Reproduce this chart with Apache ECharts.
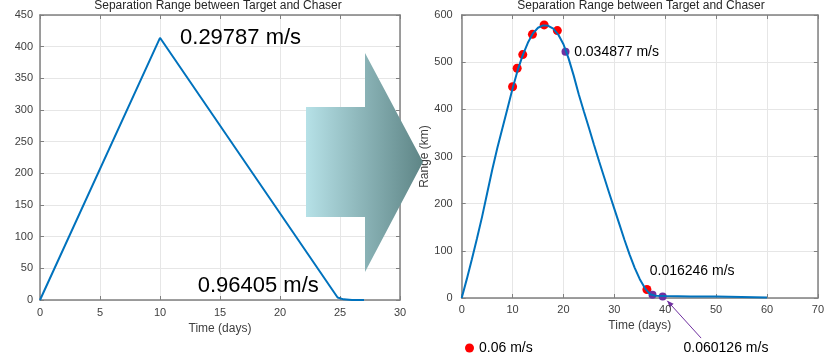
<!DOCTYPE html>
<html>
<head>
<meta charset="utf-8">
<script src="https://cdn.jsdelivr.net/npm/echarts@6/dist/echarts.min.js"></script>
<style>
html, body { margin: 0; padding: 0; background: #fff; }
#main { width: 827px; height: 354px; }
</style>
</head>
<body>
<div id="main"></div>
<script>
// 左图数据
var leftTime = [0, 10, 24.8, 25.3, 26, 27];
var leftRange = [0, 414, 4, 1, 0, 0];
var leftXTicks = [0, 5, 10, 15, 20, 25, 30];
var leftYTicks = [0, 50, 100, 150, 200, 250, 300, 350, 400, 450];

// 右图数据
var rightTime = [0, 1, 2, 3, 4, 5, 6, 7, 8, 9, 10, 11, 12, 13, 14, 15, 16, 17, 18, 19, 20, 21, 22, 23, 24, 25, 26, 27, 28, 29, 30, 31, 32, 33, 34, 35, 36, 37, 38, 40, 45, 50, 55, 60];
var rightRange = [0, 40, 82, 126, 172, 222, 272, 318, 360, 402, 444, 483, 515, 541, 561, 573, 578, 577, 571, 558, 538, 508, 472, 432, 396, 361, 325, 290, 256, 222, 189, 156, 123, 92, 64, 40, 21, 8, 5, 4, 3, 3, 2, 1];
var redTime = [10, 10.9, 12, 13.9, 16.2, 18.8, 36.4];
var redRange = [448, 487, 516, 559, 579, 567, 18];
var purpleTime = [20.4, 37.5, 39.5];
var purpleRange = [522, 7, 3];
var rightXTicks = [0, 10, 20, 30, 40, 50, 60, 70];
var rightYTicks = [0, 100, 200, 300, 400, 500, 600];

// 标注文字 [时间, 距离, 文本]
var leftNotes = [[11.67, 414, '0.29787 m/s'], [13.14, 22, '0.96405 m/s']];
var rightNotes = [[22.1, 522, '0.034877 m/s'], [36.96, 57, '0.016246 m/s'], [43.6, -107, '0.060126 m/s']];
var legendName = '0.06 m/s';

var line_color = '#0072BD';
var red_color = '#FF0000';
var purple_color = '#7030A0';

function zip(a, b) {
    var out = [];
    for (let i = 0; i < a.length; i++) out.push([a[i], b[i]]);
    return out;
}

var tickFont = { color: '#404040', fontSize: 11, fontFamily: 'Liberation Sans, Arial' };

// 生成一组坐标轴（主轴 + 对侧只画刻度的轴）
function makeAxes(grid, ticks, isX, name, nameGap, labelMargin) {
    var min = ticks[0], max = ticks[ticks.length - 1];
    var step = ticks[1] - ticks[0];
    var main = {
        type: 'value', gridIndex: grid, min: min, max: max, interval: step,
        position: isX ? 'bottom' : 'left',
        name: name, nameLocation: 'middle', nameGap: nameGap,
        nameTextStyle: { color: '#404040', fontSize: 12, fontFamily: 'Liberation Sans, Arial' },
        axisLine: { show: true, onZero: false, lineStyle: { color: '#808080', width: 1.5 } },
        axisTick: { show: true, inside: true, length: 4, lineStyle: { color: '#808080' } },
        axisLabel: Object.assign({ margin: labelMargin }, tickFont),
        splitLine: { show: true, lineStyle: { color: '#e6e6e6', width: 1 } }
    };
    var other = {
        type: 'value', gridIndex: grid, min: min, max: max, interval: step,
        position: isX ? 'top' : 'right',
        axisLine: { show: true, onZero: false, lineStyle: { color: '#808080', width: 1.5 } },
        axisTick: { show: true, inside: true, length: 4, lineStyle: { color: '#808080' } },
        axisLabel: { show: false },
        splitLine: { show: false }
    };
    return [main, other];
}

var myChart = echarts.init(document.getElementById('main'));

var xAxes = makeAxes(0, leftXTicks, true, 'Time (days)', 22, 7)
    .concat(makeAxes(1, rightXTicks, true, 'Time (days)', 20, 6));
var yAxes = makeAxes(0, leftYTicks, false, '', 20, 7)
    .concat(makeAxes(1, rightYTicks, false, 'Range (km)', 27, 9));

var option = {
    animation: false,
    backgroundColor: '#fff',
    title: [
        { text: 'Separation Range between Target and Chaser', left: 218, top: 0, padding: 0, textAlign: 'center',
          textStyle: { fontSize: 12, fontWeight: 'normal', color: '#262626', fontFamily: 'Liberation Sans, Arial' } },
        { text: 'Separation Range between Target and Chaser', left: 641, top: 0, padding: 0, textAlign: 'center',
          textStyle: { fontSize: 12, fontWeight: 'normal', color: '#262626', fontFamily: 'Liberation Sans, Arial' } }
    ],
    legend: {
        data: [legendName], left: 460, top: 336, itemWidth: 9, itemHeight: 9, itemGap: 6,
        icon: 'circle',
        textStyle: { fontSize: 14, color: '#000', fontFamily: 'Liberation Sans, Arial' }
    },
    grid: [
        { left: 40, top: 15, width: 360, height: 285 },
        { left: 461.7, top: 15, width: 360, height: 283 }
    ],
    xAxis: xAxes,
    yAxis: yAxes,
    series: [
        { type: 'line', xAxisIndex: 0, yAxisIndex: 0, data: zip(leftTime, leftRange), showSymbol: false,
          lineStyle: { color: line_color, width: 2 } },
        { type: 'line', xAxisIndex: 2, yAxisIndex: 2, data: zip(rightTime, rightRange), showSymbol: false,
          lineStyle: { color: line_color, width: 2 } },
        { name: legendName, type: 'scatter', xAxisIndex: 2, yAxisIndex: 2, data: zip(redTime, redRange), symbolSize: 9,
          itemStyle: { color: red_color, opacity: 1 } },
        { type: 'scatter', xAxisIndex: 2, yAxisIndex: 2, data: zip(purpleTime, purpleRange), symbolSize: 8,
          itemStyle: { color: purple_color, opacity: 1 } }
    ]
};
myChart.setOption(option);

// 用数据坐标放置标注文字
var graphics = [];
leftNotes.forEach(function (n) {
    var p = myChart.convertToPixel({ gridIndex: 0 }, [n[0], n[1]]);
    graphics.push({ type: 'text', x: p[0], y: p[1],
        style: { text: n[2], fontSize: 22, fill: '#000', fontFamily: 'Liberation Sans, Arial', verticalAlign: 'middle', align: 'left' } });
});
rightNotes.forEach(function (n) {
    var p = myChart.convertToPixel({ gridIndex: 1 }, [n[0], n[1]]);
    graphics.push({ type: 'text', x: p[0], y: p[1],
        style: { text: n[2], fontSize: 14, fill: '#000', fontFamily: 'Liberation Sans, Arial', verticalAlign: 'middle', align: 'left' } });
});
// 最后一个紫点的指示箭头
var a0 = myChart.convertToPixel({ gridIndex: 1 }, [47.05, -85]);
var a1 = myChart.convertToPixel({ gridIndex: 1 }, [purpleTime[2] + 0.9, purpleRange[2] - 9]);
var ang = Math.atan2(a1[1] - a0[1], a1[0] - a0[0]);
graphics.push({ type: 'line', shape: { x1: a0[0], y1: a0[1], x2: a1[0], y2: a1[1] },
    style: { stroke: purple_color, lineWidth: 1 } });
graphics.push({ type: 'polygon', shape: { points: [
    [a1[0], a1[1]],
    [a1[0] - 7 * Math.cos(ang - 0.4), a1[1] - 7 * Math.sin(ang - 0.4)],
    [a1[0] - 7 * Math.cos(ang + 0.4), a1[1] - 7 * Math.sin(ang + 0.4)]
] }, style: { fill: purple_color } });

// 中间的大箭头
graphics.push({
    type: 'polygon', z: 10,
    shape: { points: [[306, 107], [365, 107], [365, 53], [423, 162], [365, 272], [365, 217], [306, 217]] },
    style: {
        fill: new echarts.graphic.LinearGradient(0, 0, 1, 0, [
            { offset: 0, color: '#b6e1e7' },
            { offset: 1, color: '#5e8586' }
        ])
    }
});
myChart.setOption({ graphic: graphics });
</script>
</body>
</html>
